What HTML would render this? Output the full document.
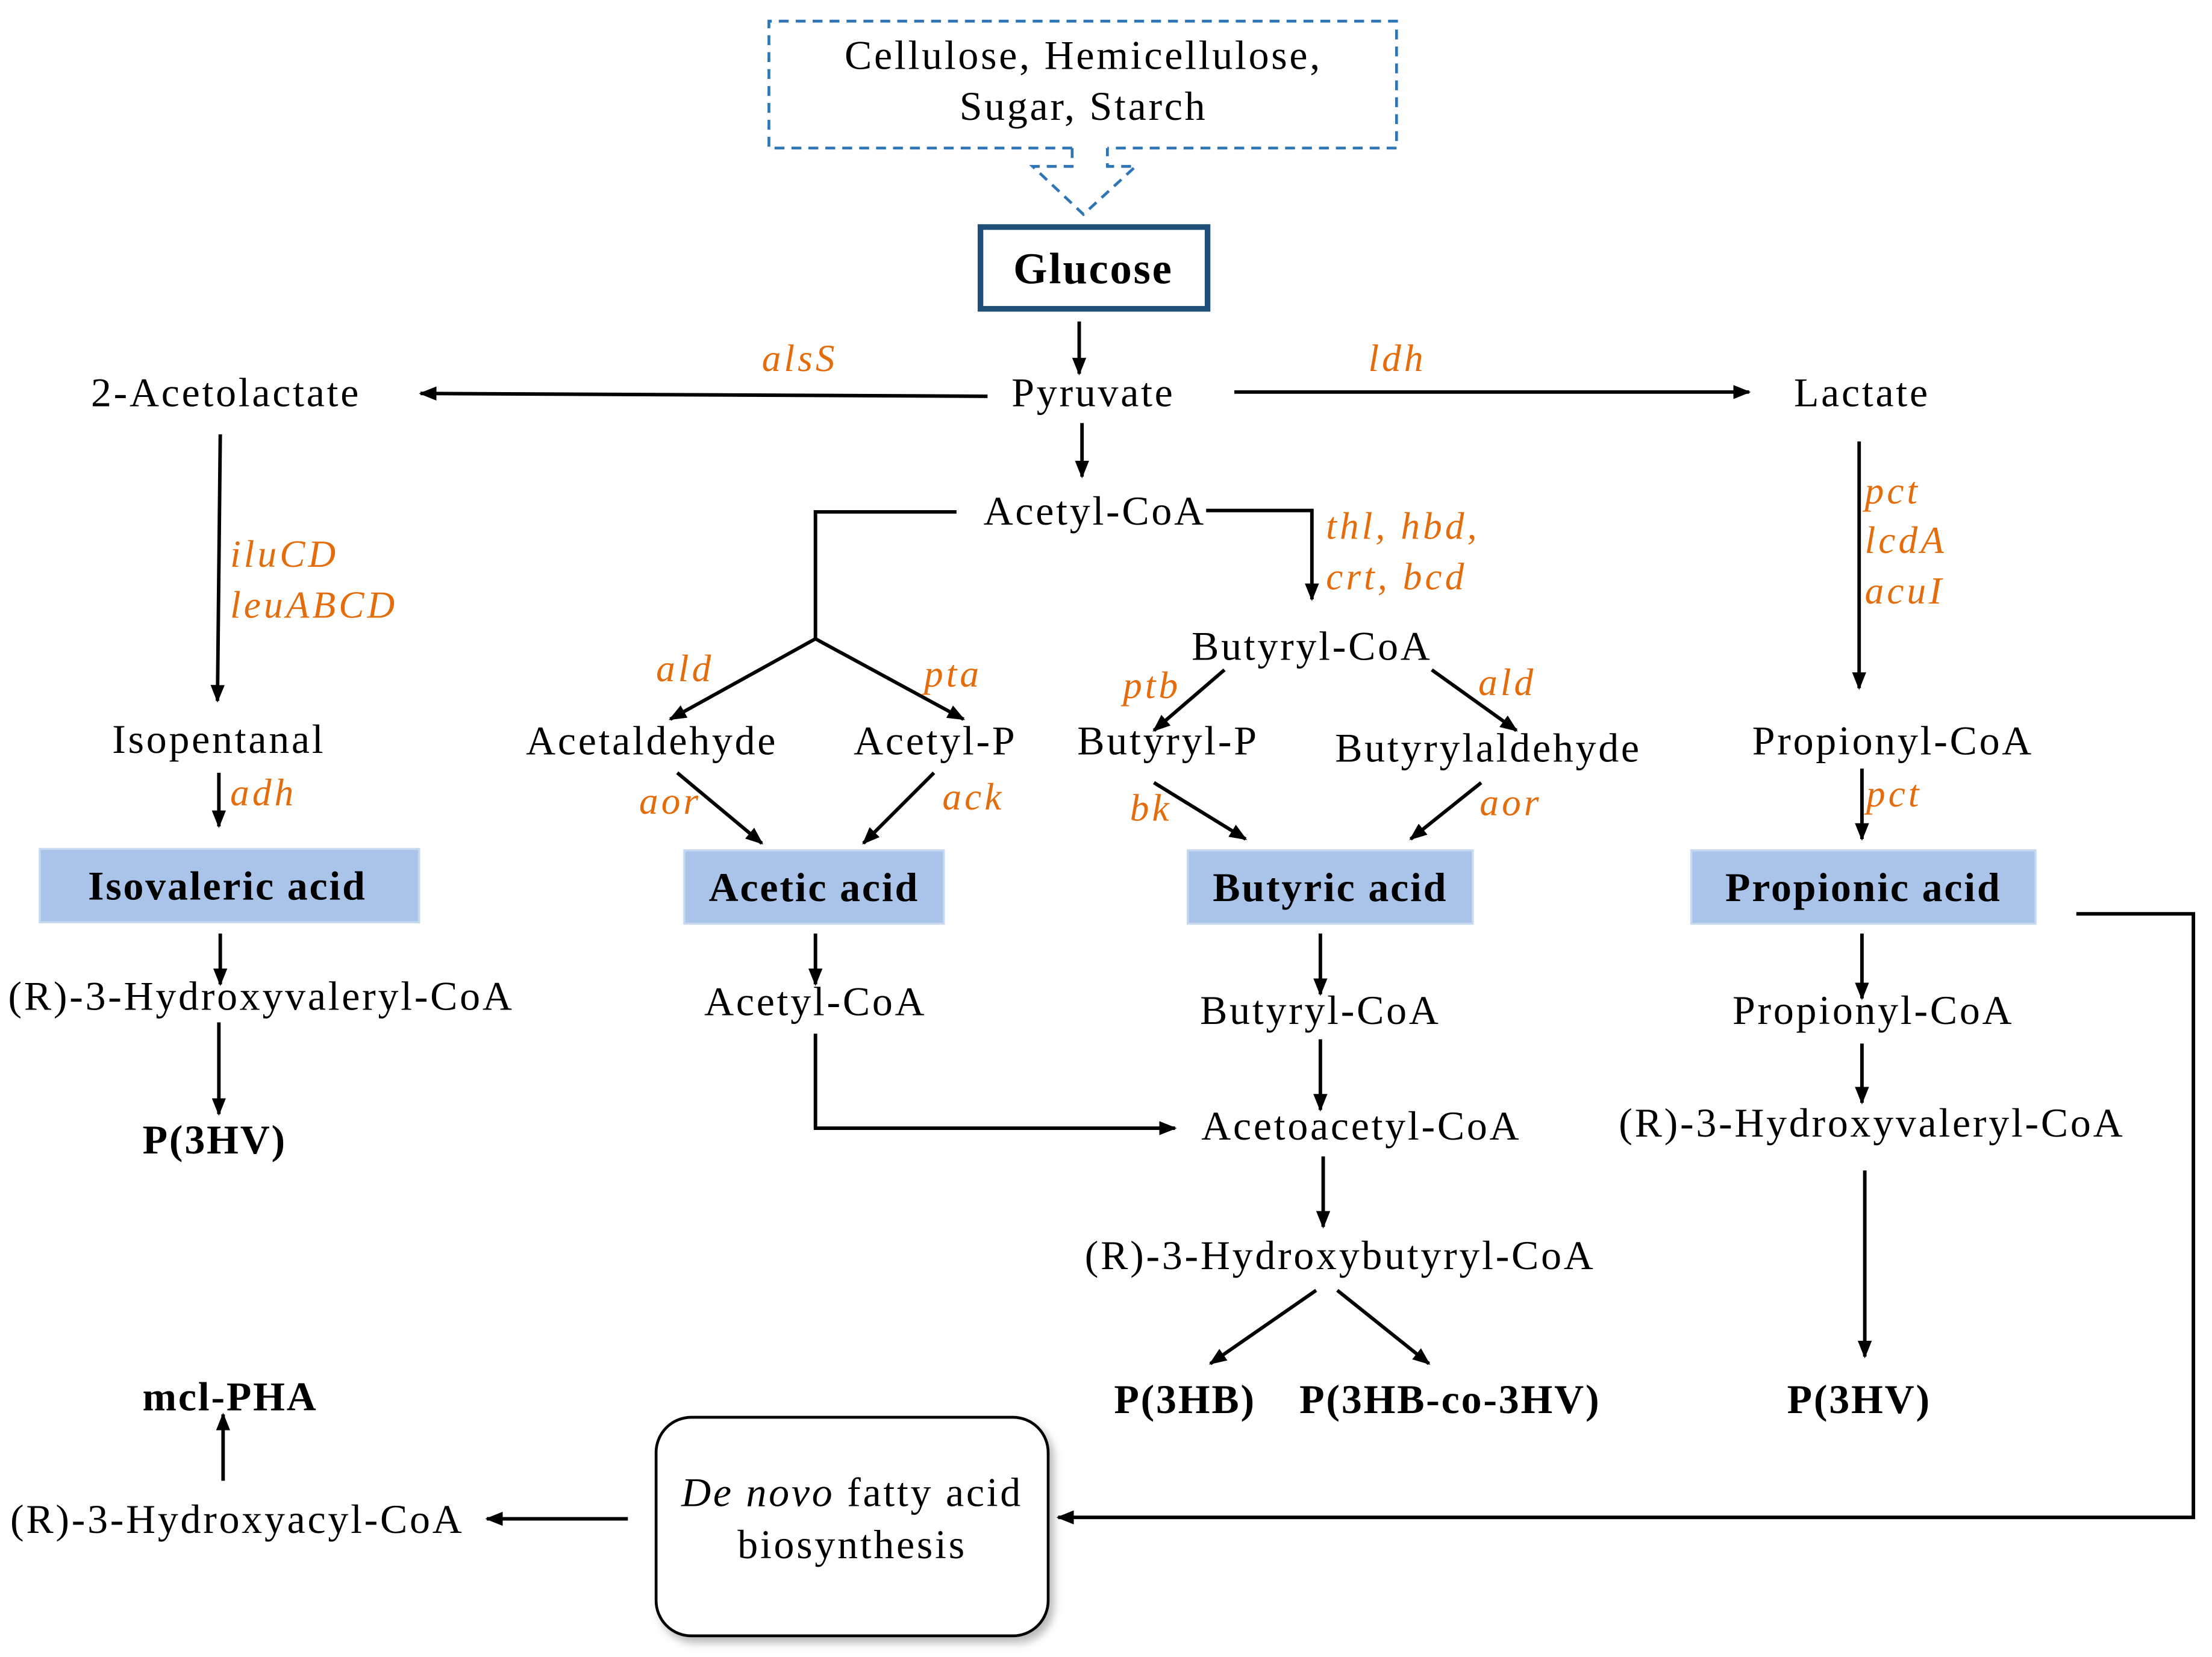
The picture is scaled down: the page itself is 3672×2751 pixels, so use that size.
<!DOCTYPE html>
<html><head><meta charset="utf-8"><style>
html,body{margin:0;padding:0;background:#fff;}
svg{display:block;}
text{font-family:"Liberation Serif",serif;font-size:29px;letter-spacing:1.6px;fill:#000;text-anchor:middle;}
.o{fill:#E46C0A;font-style:italic;font-size:27px;letter-spacing:2.2px;text-anchor:start;}
.b{font-weight:bold;letter-spacing:1.2px;}
</style></head><body>
<svg width="3672" height="2751" viewBox="0 0 1568 1175" xmlns="http://www.w3.org/2000/svg">
<defs>
<marker id="a" viewBox="0 0 10 10" refX="9" refY="5" markerWidth="5" markerHeight="5" orient="auto-start-reverse" markerUnits="strokeWidth"><path d="M0,1 L10,5 L0,9 z" fill="#000"/></marker>
<filter id="sh" x="-10%" y="-10%" width="130%" height="130%"><feDropShadow dx="3" dy="4" stdDeviation="3" flood-color="#888" flood-opacity="0.6"/></filter>
</defs>
<g fill="none" stroke="#2E75B6" stroke-width="2" stroke-dasharray="7,5">
<path d="M760,105 L545,105 L545,15 L990,15 L990,105 L785,105"/>
<path d="M760,105 L760,118 L732,118 L768,152 L805,118 L785,118 L785,105"/>
</g>
<text x="768" y="49">Cellulose, Hemicellulose,</text>
<text x="768" y="85">Sugar, Starch</text>
<rect x="695" y="161" width="161" height="58" fill="#fff" stroke="#1F4E79" stroke-width="4"/>
<text x="775" y="201" class="b" style="font-size:31px">Glucose</text>
<g stroke="#000" stroke-width="2.5" fill="none" marker-end="url(#a)">
<path d="M765,228 L765,265"/>
<path d="M700,281 L298,279"/>
<path d="M875,278 L1240,278"/>
<path d="M767,300 L767,338"/>
<path d="M578,453 L475,510"/>
<path d="M578,453 L683,510"/>
<path d="M855,362 L930,362 L930,425"/>
<path d="M868,475 L818,518"/>
<path d="M1015,475 L1075,518"/>
<path d="M480,548 L540,598"/>
<path d="M662,548 L612,598"/>
<path d="M818,555 L883,595"/>
<path d="M1050,555 L1000,595"/>
<path d="M156,308 L154,497"/>
<path d="M155,548 L155,586"/>
<path d="M156,662 L156,698"/>
<path d="M155,725 L155,790"/>
<path d="M578,662 L578,698"/>
<path d="M578,733 L578,800 L833,800"/>
<path d="M936,662 L936,705"/>
<path d="M936,737 L936,787"/>
<path d="M938,820 L938,870"/>
<path d="M933,915 L858,967"/>
<path d="M948,915 L1013,967"/>
<path d="M1318,313 L1318,488"/>
<path d="M1320,545 L1320,595"/>
<path d="M1320,662 L1320,708"/>
<path d="M1320,740 L1320,782"/>
<path d="M1322,830 L1322,962"/>
<path d="M1472,648 L1555,648 L1555,1076 L750,1076"/>
<path d="M445,1077 L345,1077"/>
<path d="M158,1050 L158,1003"/>
</g>
<path d="M678,363 L578,363 L578,453" stroke="#000" stroke-width="2.5" fill="none"/>
<text x="775" y="288">Pyruvate</text>
<text x="160" y="288">2-Acetolactate</text>
<text x="1320" y="288">Lactate</text>
<text x="776" y="372">Acetyl-CoA</text>
<text x="930" y="468">Butyryl-CoA</text>
<text x="828" y="535">Butyryl-P</text>
<text x="1055" y="540">Butyrylaldehyde</text>
<text x="462" y="535">Acetaldehyde</text>
<text x="663" y="535">Acetyl-P</text>
<text x="155" y="534">Isopentanal</text>
<text x="1342" y="535">Propionyl-CoA</text>
<text class="o" x="540" y="263">alsS</text>
<text class="o" x="970" y="263">ldh</text>
<text class="o" x="940" y="382">thl, hbd,</text>
<text class="o" x="940" y="418">crt, bcd</text>
<text class="o" x="465" y="483">ald</text>
<text class="o" x="655" y="487">pta</text>
<text class="o" x="796" y="495">ptb</text>
<text class="o" x="1048" y="493">ald</text>
<text class="o" x="453" y="577">aor</text>
<text class="o" x="668" y="574">ack</text>
<text class="o" x="801" y="582">bk</text>
<text class="o" x="1049" y="578">aor</text>
<text class="o" x="163" y="402">iluCD</text>
<text class="o" x="163" y="438">leuABCD</text>
<text class="o" x="163" y="571">adh</text>
<text class="o" x="1322" y="357">pct</text>
<text class="o" x="1322" y="392">lcdA</text>
<text class="o" x="1322" y="428">acuI</text>
<text class="o" x="1323" y="572">pct</text>
<g fill="#A9C4E8" stroke="#C6D9F0" stroke-width="1.5">
<rect x="28" y="602" width="269" height="52"/>
<rect x="485" y="603" width="184" height="52"/>
<rect x="842" y="603" width="202" height="52"/>
<rect x="1199" y="603" width="244" height="52"/>
</g>
<text class="b" x="161" y="638">Isovaleric acid</text>
<text class="b" x="577" y="639">Acetic acid</text>
<text class="b" x="943" y="639">Butyric acid</text>
<text class="b" x="1321" y="639">Propionic acid</text>
<text x="185" y="716">(R)-3-Hydroxyvaleryl-CoA</text>
<text class="b" x="152" y="818">P(3HV)</text>
<text x="578" y="720">Acetyl-CoA</text>
<text x="936" y="726">Butyryl-CoA</text>
<text x="965" y="808">Acetoacetyl-CoA</text>
<text x="950" y="900">(R)-3-Hydroxybutyryl-CoA</text>
<text class="b" x="840" y="1002">P(3HB)</text>
<text class="b" x="1028" y="1002">P(3HB-co-3HV)</text>
<text x="1328" y="726">Propionyl-CoA</text>
<text x="1327" y="806">(R)-3-Hydroxyvaleryl-CoA</text>
<text class="b" x="1318" y="1002">P(3HV)</text>
<rect x="465" y="1005" width="278" height="155" rx="25" fill="#fff" stroke="#000" stroke-width="2" filter="url(#sh)"/>
<text x="604" y="1068"><tspan font-style="italic">De novo</tspan> fatty acid</text>
<text x="604" y="1105">biosynthesis</text>
<text x="168" y="1087">(R)-3-Hydroxyacyl-CoA</text>
<text class="b" x="163" y="1000">mcl-PHA</text>
</svg>
</body></html>
